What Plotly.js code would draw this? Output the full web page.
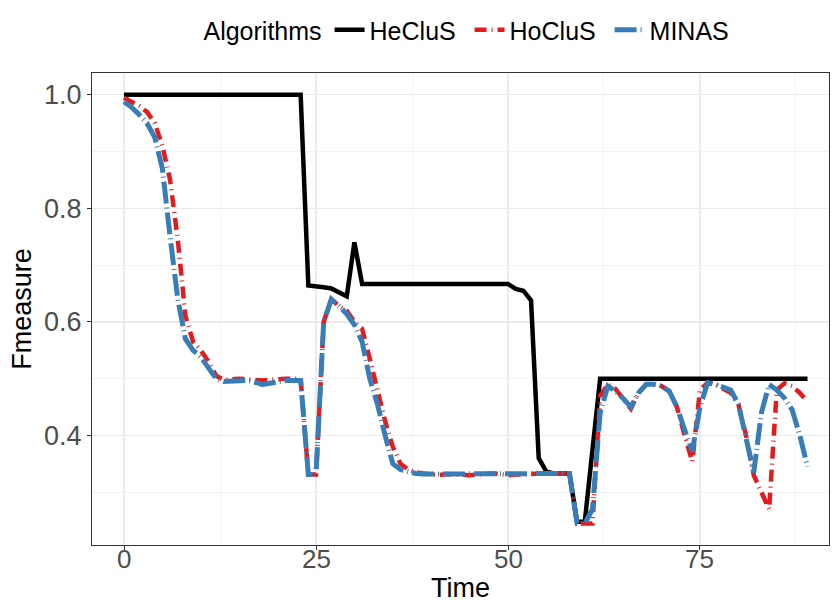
<!DOCTYPE html>
<html>
<head>
<meta charset="utf-8">
<script src="https://cdn.plot.ly/plotly-3.0.1.min.js"></script>
<style>html,body{margin:0;padding:0;background:#fff;}#chart{width:832px;height:603px;}</style>
</head>
<body>
<div id="chart"></div>
<script>
const time = [0,1,2,3,4,5,6,7,8,9,10,11,12,13,14,15,16,17,18,19,20,21,22,23,24,25,26,27,28,29,
  30,31,32,33,34,35,36,37,38,39,40,41,42,43,44,45,46,47,48,49,50,51,52,53,54,55,56,57,58,59,
  60,61,62,63,64,65,66,67,68,69,70,71,72,73,74,75,76,77,78,79,80,81,82,83,84,85,86,87,88,89];

const seriesNames = ["HeCluS", "HoCluS", "MINAS"];

const heclus = [1,1,1,1,1,1,1,1,1,1,1,1,1,1,1,1,1,1,1,1,1,1,1,1,
  0.664,0.663,0.661,0.659,0.652,0.645,0.74,0.667,
  0.667,0.667,0.667,0.667,0.667,0.667,0.667,0.667,0.667,0.667,0.667,0.667,0.667,0.667,0.667,0.667,0.667,0.667,0.667,
  0.658,0.655,0.638,0.36,0.336,0.333,0.333,0.333,0.248,0.248,0.375,
  0.5,0.5,0.5,0.5,0.5,0.5,0.5,0.5,0.5,0.5,0.5,0.5,0.5,0.5,0.5,0.5,0.5,0.5,0.5,0.5,0.5,0.5,0.5,0.5,0.5,0.5,0.5,0.5];

const hoclus = [0.995,0.988,0.98,0.97,0.95,0.91,0.85,0.745,0.61,0.565,0.55,0.53,0.505,
  0.498,0.5,0.5,0.499,0.497,0.497,0.498,0.5,0.5,0.5,0.5,
  0.331,0.331,0.60,0.64,0.628,0.62,0.60,0.588,0.535,0.48,0.425,0.38,0.35,0.34,
  0.335,0.333,0.331,0.33,0.332,0.332,0.331,0.33,0.331,0.332,0.333,0.332,0.33,0.331,0.331,0.332,0.333,0.333,0.333,0.333,0.333,
  0.245,0.245,0.245,0.47,0.49,0.482,0.465,0.447,0.475,0.49,0.49,0.487,0.478,0.45,0.40,0.354,0.48,0.493,0.49,0.482,0.475,0.455,0.40,0.33,0.30,0.27,0.48,0.492,0.487,0.475,0.46];

const minas = [0.988,0.978,0.965,0.95,0.925,0.87,0.75,0.64,0.57,0.55,0.538,0.52,0.5,
  0.495,0.495,0.496,0.497,0.494,0.49,0.492,0.495,0.497,0.497,0.497,
  0.331,0.331,0.60,0.64,0.628,0.614,0.595,0.565,0.50,0.455,0.40,0.35,0.34,0.336,
  0.333,0.332,0.332,0.331,0.332,0.333,0.333,0.332,0.332,0.333,0.333,0.332,0.333,0.333,0.332,0.332,0.333,0.333,0.333,0.333,0.333,
  0.245,0.245,0.27,0.44,0.487,0.478,0.465,0.45,0.475,0.49,0.49,0.487,0.478,0.45,0.41,0.372,0.45,0.493,0.49,0.485,0.48,0.455,0.395,0.335,0.44,0.49,0.48,0.466,0.445,0.40,0.345];

const xTicks = [0, 25, 50, 75];
const yTicks = [0.4, 0.6, 0.8, 1.0];

const traces = [
  {x: time, y: heclus, name: seriesNames[0], type: 'scatter', mode: 'lines',
   line: {color: '#000000', width: 4.5, dash: 'solid'}},
  {x: time, y: hoclus, name: seriesNames[1], type: 'scatter', mode: 'lines',
   line: {color: '#E41A1C', width: 4.5, dash: '12px,5px,1px,5px'}},
  {x: time, y: minas, name: seriesNames[2], type: 'scatter', mode: 'lines',
   line: {color: '#377EB8', width: 5, dash: '22px,4px,1px,4px'}}
];

const font = 'Liberation Sans, Arial, sans-serif';

// x tick labels drawn as annotations at the axis' own tick values (placed via the x scale)
const xTickLabels = xTicks.map(t => ({
  x: t, xref: 'x', y: 0, yref: 'paper', yanchor: 'top', yshift: 3,
  text: String(t), showarrow: false,
  font: {family: font, size: 26, color: '#4D4D4D'}
}));
const xTitle = {
  x: 0.5, xref: 'paper', xanchor: 'center', y: 0, yref: 'paper', yanchor: 'top', yshift: -27,
  text: 'Time', showarrow: false, borderpad: 0, font: {family: font, size: 27, color: '#000'}
};

const layout = {
  width: 832, height: 603, autosize: false,
  paper_bgcolor: '#fff', plot_bgcolor: '#fff',
  margin: {l: 92, r: 3, t: 73, b: 58, pad: 0},
  font: {family: font, color: '#000'},
  showlegend: true,
  legend: {
    orientation: 'h', x: 0.521, xanchor: 'center', y: 1.091, yanchor: 'middle',
    font: {family: font, size: 25, color: '#000'},
    title: {text: 'Algorithms', side: 'left', font: {family: font, size: 25, color: '#000'}},
    itemwidth: 30, entrywidth: 95, tracegroupgap: 0, bgcolor: 'rgba(0,0,0,0)'
  },
  annotations: xTickLabels.concat([xTitle]),
  xaxis: {
    range: [-4.17, 91.8], tickvals: xTicks, showticklabels: false,
    showgrid: true, gridcolor: '#EBEBEB', gridwidth: 1.2,
    minor: {dtick: 12.5, tick0: 12.5, showgrid: true, gridcolor: '#EBEBEB', gridwidth: 0.6, ticklen: 0},
    zeroline: false, showline: true, mirror: true, linecolor: '#333333', linewidth: 1,
    ticks: 'outside', ticklen: 4, tickcolor: '#333333', tickwidth: 1
  },
  yaxis: {
    range: [0.207, 1.0385], tickvals: yTicks, ticktext: yTicks.map(v => v.toFixed(1)),
    showgrid: true, gridcolor: '#EBEBEB', gridwidth: 1.2,
    minor: {dtick: 0.2, tick0: 0.3, showgrid: true, gridcolor: '#EBEBEB', gridwidth: 0.6, ticklen: 0},
    zeroline: false, showline: true, mirror: true, linecolor: '#333333', linewidth: 1,
    ticks: 'outside', ticklen: 4, tickcolor: '#333333', tickwidth: 1,
    tickfont: {family: font, size: 27, color: '#4D4D4D'},
    title: {text: 'Fmeasure', font: {family: font, size: 27, color: '#000'}, standoff: 4}
  }
};

Plotly.newPlot('chart', traces, layout, {displayModeBar: false, staticPlot: true});
</script>
</body>
</html>
